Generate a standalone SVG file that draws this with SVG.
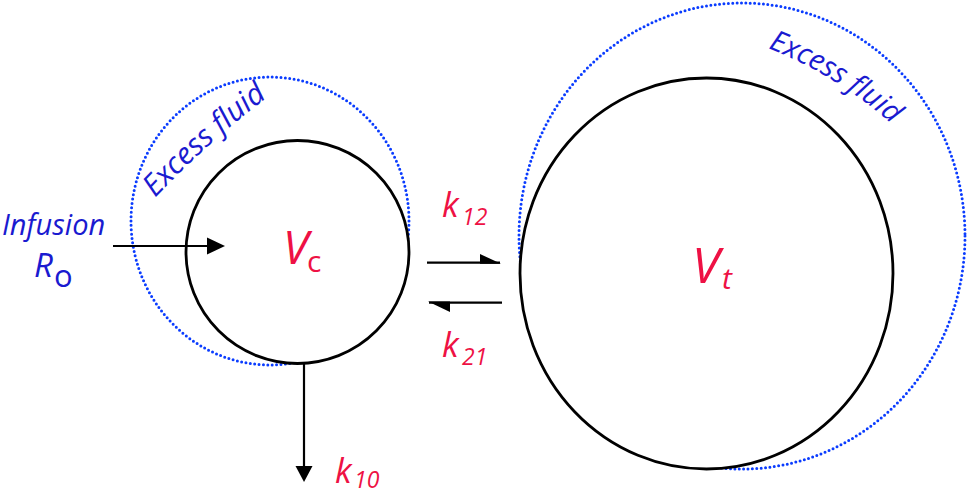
<svg xmlns="http://www.w3.org/2000/svg" width="969" height="494" viewBox="0 0 969 494">
<style>
.dot{fill:none;stroke:#0a3cff;stroke-width:3;stroke-dasharray:0 4.4;stroke-linecap:round}
.cmp{fill:#fff;stroke:#000;stroke-width:2.8}
.ln{stroke:#000;stroke-width:2.2;fill:none}
.hd{fill:#000}
.t{font-family:"Open Sans","Noto Sans","DejaVu Sans",sans-serif}
.red{fill:#ee1144}
.blue{fill:#1a1ad0}
.it{font-style:italic}
</style>
<defs>
<path id="arcS" d="M155 198 A900 900 0 0 1 307.4 68.8"/>
<path id="arcB" d="M768 48 A420 420 0 0 1 929.7 162.3"/>
</defs>
<g id="central">
<ellipse class="dot" cx="270" cy="221" rx="139" ry="144"/>
<circle class="cmp" cx="297.5" cy="252" r="111.5"/>
<text class="t blue it" font-size="30"><textPath href="#arcS">Excess fluid</textPath></text>
<text class="t red it" x="283" y="264" font-size="46">V</text>
<text class="t red" x="307" y="272" font-size="30">c</text>
</g>
<g id="tissue">
<ellipse class="dot" cx="742" cy="236" rx="223" ry="233"/>
<ellipse class="cmp" cx="706.5" cy="273.5" rx="186.5" ry="195.5"/>
<text class="t blue it" font-size="29"><textPath href="#arcB">Excess fluid</textPath></text>
<text class="t red it" x="692" y="283" font-size="50">V</text>
<text class="t red it" x="722" y="289" font-size="30">t</text>
</g>
<g id="infusion">
<text class="t blue it" x="2" y="235" font-size="29">Infusion</text>
<text class="t blue it" x="34" y="277" font-size="33">R</text>
<text class="t blue" x="54" y="287" font-size="31">o</text>
</g>
<g id="connectors">
<line class="ln" x1="113" y1="246" x2="210" y2="246"/>
<polygon class="hd" points="207,237.5 225,246 207,254.5"/>
<line class="ln" x1="427" y1="262.7" x2="500" y2="262.7"/>
<polygon class="hd" points="480,254 501,263.8 480,263.8"/>
<line class="ln" x1="429" y1="302.7" x2="502" y2="302.7"/>
<polygon class="hd" points="428,301.6 450,301.6 450,312"/>
<line class="ln" x1="304" y1="363" x2="304" y2="468"/>
<polygon class="hd" points="295.5,466 312.5,466 304,482"/>
</g>
<g id="labels">
<text class="t red it" x="442" y="217" font-size="34">k</text>
<text class="t red it" x="462" y="225" font-size="23">12</text>
<text class="t red it" x="442" y="357" font-size="34">k</text>
<text class="t red it" x="462" y="365" font-size="23">21</text>
<text class="t red it" x="335" y="483" font-size="34">k</text>
<text class="t red it" x="354" y="488" font-size="23">10</text>
</g>
</svg>
